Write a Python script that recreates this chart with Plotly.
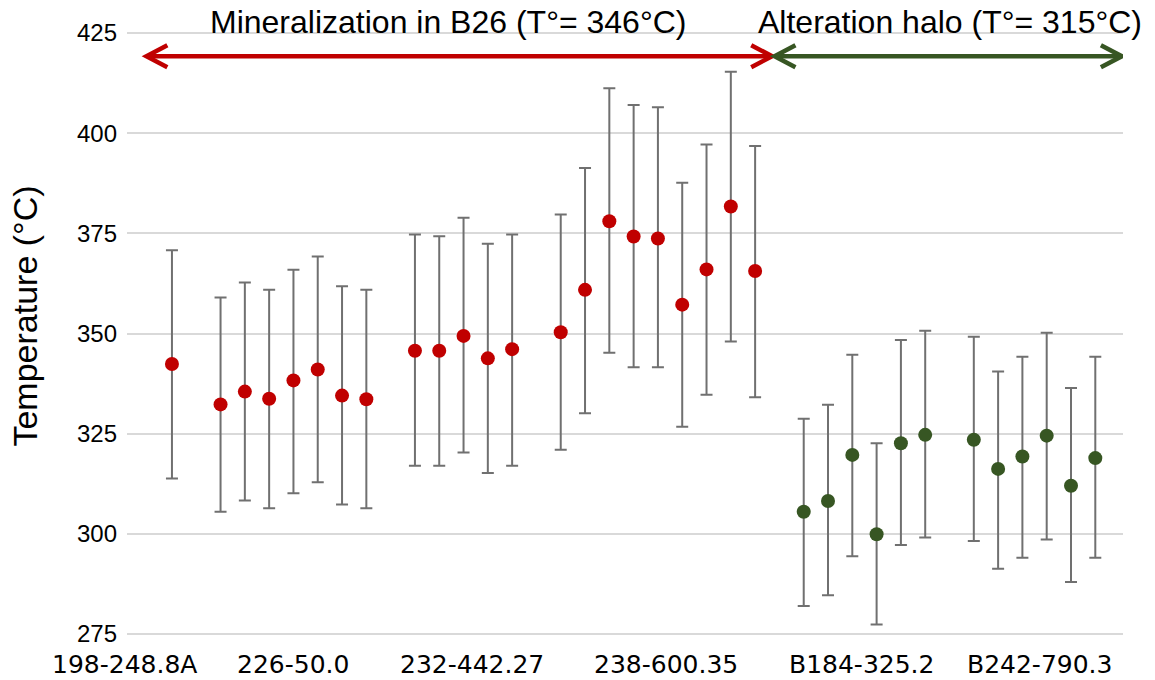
import plotly.graph_objects as go

# ---------------- data ----------------
groups = ["198-248.8A", "226-50.0", "232-442.27", "238-600.35", "B184-325.2", "B242-790.3"]
zone_of_group = ["min", "min", "min", "min", "alt", "alt"]

temp_198 = [342.4]
upper_198 = [370.8]
lower_198 = [313.8]

temp_226 = [332.3, 335.5, 333.7, 338.3, 341.0, 334.5, 333.6]
upper_226 = [359.0, 362.7, 360.9, 365.9, 369.2, 361.8, 360.9]
lower_226 = [305.5, 308.3, 306.4, 310.1, 312.9, 307.3, 306.4]

temp_232 = [345.7, 345.7, 349.4, 343.8, 346.1]
upper_232 = [374.7, 374.3, 378.9, 372.4, 374.7]
lower_232 = [317.0, 317.0, 320.3, 315.2, 317.0]

temp_238 = [350.3, 360.9, 378.0, 374.2, 373.7, 357.2, 366.0, 381.7, 365.6]
upper_238 = [379.7, 391.3, 411.2, 407.0, 406.5, 387.6, 397.2, 415.3, 396.8]
lower_238 = [321.0, 330.1, 345.2, 341.6, 341.6, 326.7, 334.7, 348.0, 334.1]

temp_B184 = [305.5, 308.2, 319.7, 299.9, 322.6, 324.7]
upper_B184 = [328.7, 332.2, 344.7, 322.6, 348.4, 350.7]
lower_B184 = [282.0, 284.7, 294.4, 277.4, 297.2, 299.1]

temp_B242 = [323.5, 316.2, 319.3, 324.5, 312.0, 318.9]
upper_B242 = [349.2, 340.5, 344.2, 350.2, 336.4, 344.2]
lower_B242 = [298.2, 291.3, 294.0, 298.6, 288.0, 294.0]

temps = [temp_198, temp_226, temp_232, temp_238, temp_B184, temp_B242]
uppers = [upper_198, upper_226, upper_232, upper_238, upper_B184, upper_B242]
lowers = [lower_198, lower_226, lower_232, lower_238, lower_B184, lower_B242]

y_ticks = [275, 300, 325, 350, 375, 400, 425]

zone_titles = {"min": "Mineralization in B26 (T°= 346°C)", "alt": "Alteration halo (T°= 315°C)"}

# ---------------- styling / layout constants ----------------
COLORS = {"min": "#C00000", "alt": "#375623"}
ERR_COLOR = "#707070"
GAP = 1  # empty slots between sample groups
LABEL_POS = [-1.97, 4.98, 12.34, 20.35, 28.37, 35.69]
X_RANGE = [-1.85, 39.14]
Y_RANGE = [274.5, 425.5]

# slot positions built from group sizes
xs_by_group = []
pos = 0
for vals in temps:
    xs_by_group.append([pos + i for i in range(len(vals))])
    pos += len(vals) + GAP

fig = go.Figure()
for zone in ["min", "alt"]:
    xs, ys, ep, em = [], [], [], []
    for g, z in enumerate(zone_of_group):
        if z != zone:
            continue
        for x, v, u, l in zip(xs_by_group[g], temps[g], uppers[g], lowers[g]):
            xs.append(x)
            ys.append(v)
            ep.append(u - v)
            em.append(v - l)
    fig.add_trace(go.Scatter(
        x=xs, y=ys, mode="markers",
        marker=dict(color=COLORS[zone], size=14, line=dict(width=0)),
        error_y=dict(type="data", symmetric=False, array=ep, arrayminus=em,
                     color=ERR_COLOR, thickness=2, width=6),
        showlegend=False, hoverinfo="x+y",
    ))

# zone arrows (span of each zone, drawn on the axes' scales)
ARROW_Y = 419.2
HEAD_DX = 0.86
HEAD_DY = 2.75
first_alt = zone_of_group.index("alt")
boundary = (xs_by_group[first_alt - 1][-1] + xs_by_group[first_alt][0]) / 2 - 0.25
spans = {"min": (X_RANGE[0] + 0.8, boundary - 0.05), "alt": (boundary + 0.05, X_RANGE[1] - 0.05)}
for zone, (x0, x1) in spans.items():
    c = COLORS[zone]
    fig.add_shape(type="line", x0=x0 + 0.1, x1=x1 - 0.1, y0=ARROW_Y, y1=ARROW_Y,
                  xref="x", yref="y", line=dict(color=c, width=4.5))
    fig.add_shape(type="path", xref="x", yref="y",
                  path=f"M {x0 + HEAD_DX},{ARROW_Y + HEAD_DY} L {x0},{ARROW_Y} L {x0 + HEAD_DX},{ARROW_Y - HEAD_DY}",
                  line=dict(color=c, width=4.5))
    fig.add_shape(type="path", xref="x", yref="y",
                  path=f"M {x1 - HEAD_DX},{ARROW_Y + HEAD_DY} L {x1},{ARROW_Y} L {x1 - HEAD_DX},{ARROW_Y - HEAD_DY}",
                  line=dict(color=c, width=4.5))

TITLE_X = {"min": 11.35, "alt": 32.0}
for zone, text in zone_titles.items():
    fig.add_annotation(x=TITLE_X[zone], y=425, xref="x", yref="y",
                       text=text, showarrow=False, xanchor="center", yanchor="bottom",
                       yshift=-9,
                       font=dict(family="Liberation Sans, Arial", size=32, color="#000000"))

# category labels under the axis (placed on the x scale, converted to paper fraction)
x_span = X_RANGE[1] - X_RANGE[0]
for lp, name in zip(LABEL_POS, groups):
    fig.add_annotation(x=(lp - X_RANGE[0]) / x_span, y=0, xref="paper", yref="paper",
                       text=name, showarrow=False,
                       xanchor="center", yanchor="top", yshift=-12,
                       font=dict(family="DejaVu Sans", size=25, color="#000000"))

fig.add_annotation(x=-0.1024, y=0.528, xref="paper", yref="paper",
                   text="Temperature (°C)", textangle=-90, showarrow=False,
                   xanchor="center", yanchor="middle",
                   font=dict(family="Liberation Sans, Arial", size=34, color="#000000"))

fig.update_layout(
    width=1155, height=680, autosize=False,
    margin=dict(l=127, r=32, t=31, b=44),
    paper_bgcolor="white", plot_bgcolor="white",
    xaxis=dict(range=X_RANGE, showticklabels=False,
               showgrid=False, zeroline=False, showline=False, ticks=""),
    yaxis=dict(range=Y_RANGE, tickmode="array", tickvals=y_ticks,
               showgrid=True, gridcolor="#d9d9d9", gridwidth=1.5,
               zeroline=False, showline=False, ticks="",
               ticklabelstandoff=9,
               tickfont=dict(family="Liberation Sans, Arial", size=24, color="#000000")),
)

# remove the default 8 px page margin so the figure fills the window exactly
fig.write_html("out.html", config={"displayModeBar": False},
               post_script="document.body.style.margin='0';")
